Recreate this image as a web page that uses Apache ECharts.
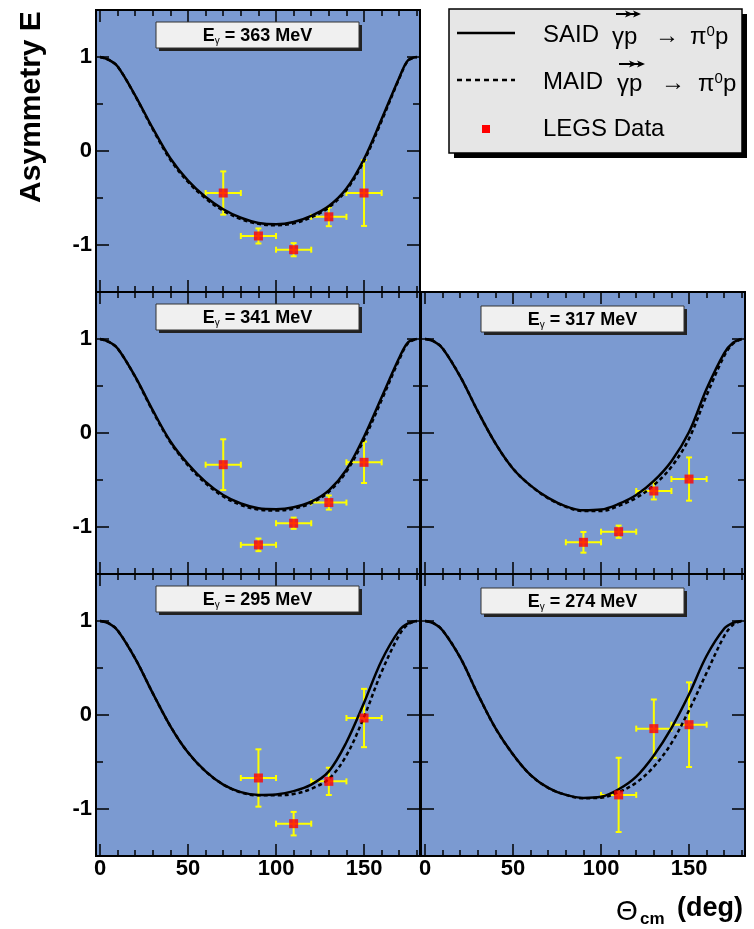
<!DOCTYPE html>
<html>
<head>
<meta charset="utf-8">
<script src="https://cdn.jsdelivr.net/npm/echarts@6/dist/echarts.min.js"></script>
<style>
  html, body { margin: 0; padding: 0; background: #fff; }
  #chart { width: 754px; height: 929px; }
</style>
</head>
<body>
<div id="chart"></div>
<script>
const theta = [0, 5, 10, 20, 30, 40, 50, 60, 70, 80, 90, 100, 110, 120, 130, 140, 150, 160, 170, 175, 180];

// SAID model (solid)
const said363 = [1.0, 0.97, 0.90, 0.59, 0.24, -0.08, -0.315, -0.49, -0.62, -0.71, -0.765, -0.78, -0.756, -0.69, -0.586, -0.40, -0.085, 0.34, 0.78, 0.965, 1.0];
const said341 = [1.0, 0.97, 0.90, 0.60, 0.24, -0.09, -0.33, -0.52, -0.66, -0.75, -0.80, -0.81, -0.79, -0.73, -0.61, -0.39, -0.04, 0.38, 0.80, 0.965, 1.0];
const said317 = [1.0, 0.975, 0.90, 0.60, 0.23, -0.11, -0.38, -0.56, -0.69, -0.78, -0.823, -0.815, -0.755, -0.66, -0.51, -0.30, 0.01, 0.47, 0.85, 0.96, 1.0];
const said295 = [1.0, 0.975, 0.90, 0.60, 0.23, -0.12, -0.40, -0.60, -0.74, -0.82, -0.85, -0.845, -0.81, -0.74, -0.60, -0.29, 0.13, 0.58, 0.90, 0.975, 1.0];
const said274 = [1.0, 0.975, 0.90, 0.61, 0.22, -0.14, -0.42, -0.64, -0.775, -0.85, -0.882, -0.87, -0.79, -0.655, -0.43, -0.14, 0.22, 0.63, 0.92, 0.98, 1.0];

// MAID model (dashed)
const maid363 = [1.0, 0.97, 0.90, 0.585, 0.23, -0.095, -0.33, -0.505, -0.635, -0.725, -0.775, -0.79, -0.77, -0.705, -0.60, -0.415, -0.105, 0.32, 0.77, 0.96, 1.0];
const maid341 = [1.0, 0.97, 0.90, 0.595, 0.23, -0.10, -0.345, -0.535, -0.675, -0.765, -0.815, -0.825, -0.805, -0.745, -0.625, -0.41, -0.07, 0.35, 0.78, 0.955, 1.0];
const maid317 = [1.0, 0.975, 0.90, 0.60, 0.23, -0.11, -0.38, -0.56, -0.695, -0.785, -0.83, -0.83, -0.775, -0.69, -0.555, -0.36, -0.06, 0.40, 0.82, 0.95, 1.0];
const maid295 = [1.0, 0.975, 0.90, 0.60, 0.23, -0.12, -0.40, -0.60, -0.74, -0.825, -0.855, -0.855, -0.84, -0.785, -0.68, -0.43, -0.02, 0.46, 0.85, 0.965, 1.0];
const maid274 = [1.0, 0.975, 0.90, 0.61, 0.22, -0.14, -0.42, -0.64, -0.775, -0.85, -0.885, -0.88, -0.82, -0.72, -0.55, -0.30, 0.05, 0.45, 0.84, 0.96, 1.0];

// LEGS data: angle, asymmetry, error
const legsTheta363 = [70, 90, 110, 130, 150];
const legsE363 = [-0.447, -0.904, -1.05, -0.70, -0.447];
const legsErr363 = [0.23, 0.08, 0.07, 0.10, 0.35];
const legsTheta341 = [70, 90, 110, 130, 150];
const legsE341 = [-0.337, -1.19, -0.96, -0.74, -0.312];
const legsErr341 = [0.27, 0.067, 0.06, 0.075, 0.22];
const legsTheta317 = [90, 110, 130, 150];
const legsE317 = [-1.163, -1.05, -0.617, -0.49];
const legsErr317 = [0.11, 0.065, 0.09, 0.23];
const legsTheta295 = [90, 110, 130, 150];
const legsE295 = [-0.67, -1.156, -0.706, -0.032];
const legsErr295 = [0.305, 0.125, 0.145, 0.31];
const legsTheta274 = [110, 130, 150];
const legsE274 = [-0.85, -0.145, -0.103];
const legsErr274 = [0.395, 0.31, 0.45];
const thetaErr = 10;

// tick labels
const xMajor = [0, 50, 100, 150];
const xMinor = [0, 10, 20, 30, 40, 50, 60, 70, 80, 90, 100, 110, 120, 130, 140, 150, 160, 170, 180];
const yMajor = [-1, 0, 1];
const yMinor = [-0.5, 0.5];

const FONT = '"Liberation Sans", Arial, sans-serif';
const X_MIN = -2.3, X_MAX = 181.8;
const PW = 324, PH = 282;

const panels = [
  { e: 363, said: said363, maid: maid363, pt: legsTheta363, pe: legsE363, perr: legsErr363, left: 96, top: 10, xl: false, yl: true },
  { e: 341, said: said341, maid: maid341, pt: legsTheta341, pe: legsE341, perr: legsErr341, left: 96, top: 292, xl: false, yl: true },
  { e: 317, said: said317, maid: maid317, pt: legsTheta317, pe: legsE317, perr: legsErr317, left: 421, top: 292, xl: false, yl: false },
  { e: 295, said: said295, maid: maid295, pt: legsTheta295, pe: legsE295, perr: legsErr295, left: 96, top: 574, xl: true, yl: true },
  { e: 274, said: said274, maid: maid274, pt: legsTheta274, pe: legsE274, perr: legsErr274, left: 421, top: 574, xl: true, yl: false }
];

const labelStyle = { color: '#000', fontFamily: FONT, fontWeight: 'bold', fontSize: 22 };

function xAx(g, pos, vals, len, showLab) {
  return {
    type: 'value', gridIndex: g, position: pos, min: X_MIN, max: X_MAX,
    axisLine: { show: false, onZero: false }, splitLine: { show: false },
    axisTick: { show: true, inside: true, length: len, customValues: vals, lineStyle: { color: '#000', width: 1.5 } },
    axisLabel: Object.assign({ show: showLab, customValues: vals, margin: 2 }, labelStyle)
  };
}
function yAx(g, pos, vals, len, showLab) {
  return {
    type: 'value', gridIndex: g, position: pos, min: -1.5, max: 1.5,
    axisLine: { show: false, onZero: false }, splitLine: { show: false },
    axisTick: { show: true, inside: true, length: len, customValues: vals, lineStyle: { color: '#000', width: 1.5 } },
    axisLabel: Object.assign({ show: showLab, customValues: vals, margin: 4 }, labelStyle)
  };
}

function renderErr(params, api) {
  const x = api.value(0), y = api.value(1), e = api.value(2);
  const l = api.coord([x - thetaErr, y]), r = api.coord([x + thetaErr, y]);
  const t = api.coord([x, y + e]), b = api.coord([x, y - e]);
  const st = { stroke: '#ffff00', lineWidth: 2 };
  const c = 3;
  return {
    type: 'group',
    children: [
      { type: 'line', shape: { x1: l[0], y1: l[1], x2: r[0], y2: r[1] }, style: st },
      { type: 'line', shape: { x1: t[0], y1: t[1], x2: b[0], y2: b[1] }, style: st },
      { type: 'line', shape: { x1: l[0], y1: l[1] - c, x2: l[0], y2: l[1] + c }, style: st },
      { type: 'line', shape: { x1: r[0], y1: r[1] - c, x2: r[0], y2: r[1] + c }, style: st },
      { type: 'line', shape: { x1: t[0] - c, y1: t[1], x2: t[0] + c, y2: t[1] }, style: st },
      { type: 'line', shape: { x1: b[0] - c, y1: b[1], x2: b[0] + c, y2: b[1] }, style: st }
    ]
  };
}

const grids = [], xAxes = [], yAxes = [], series = [], graphics = [];

panels.forEach(function (p, g) {
  grids.push({
    show: true, left: p.left, top: p.top, width: PW, height: PH,
    backgroundColor: '#7b9ad1', borderColor: '#000', borderWidth: 2,
    outerBoundsMode: 'none'
  });
  xAxes.push(xAx(g, 'bottom', xMajor, 12, p.xl), xAx(g, 'bottom', xMinor, 6, false),
             xAx(g, 'top', xMajor, 12, false), xAx(g, 'top', xMinor, 6, false));
  yAxes.push(yAx(g, 'left', yMajor, 13, p.yl), yAx(g, 'left', yMinor, 7, false),
             yAx(g, 'right', yMajor, 13, false), yAx(g, 'right', yMinor, 7, false));

  const xi = g * 4, yi = g * 4;
  series.push({
    type: 'custom', name: 'err' + p.e, xAxisIndex: xi, yAxisIndex: yi, z: 2, silent: true,
    renderItem: renderErr,
    data: p.pt.map(function (t, i) { return [t, p.pe[i], p.perr[i]]; })
  });
  series.push({
    type: 'line', name: 'MAID', xAxisIndex: xi, yAxisIndex: yi, z: 3, silent: true,
    smooth: 0.35, symbol: 'none',
    lineStyle: { color: '#000', width: 2.5, type: [4, 3] },
    data: theta.map(function (t, i) { return [t, p.maid[i]]; })
  });
  series.push({
    type: 'line', name: 'SAID', xAxisIndex: xi, yAxisIndex: yi, z: 3, silent: true,
    smooth: 0.35, symbol: 'none',
    lineStyle: { color: '#000', width: 2.5 },
    data: theta.map(function (t, i) { return [t, p.said[i]]; })
  });
  series.push({
    type: 'scatter', name: 'LEGS Data', xAxisIndex: xi, yAxisIndex: yi, z: 4, silent: true,
    symbol: 'rect', symbolSize: 9, itemStyle: { color: '#ff0000' },
    data: p.pt.map(function (t, i) { return [t, p.pe[i]]; })
  });

  // energy label box
  const bx = p.left + 60, by = p.top + (p.left < 200 ? 12 : 14), bw = 203, bh = 26;
  graphics.push(
    { type: 'rect', z: 10, shape: { x: bx + 3, y: by + 3, width: bw, height: bh }, style: { fill: '#222' } },
    { type: 'rect', z: 11, shape: { x: bx, y: by, width: bw, height: bh }, style: { fill: '#f0f0f0', stroke: '#333', lineWidth: 1 } },
    {
      type: 'text', z: 12, x: bx + bw / 2, y: by + bh / 2 + 1,
      style: {
        text: '{e|E}{g|γ}{e| = ' + p.e + ' MeV}',
        align: 'center', verticalAlign: 'middle',
        rich: {
          e: { fontFamily: FONT, fontWeight: 'bold', fontSize: 18, fill: '#000', lineHeight: 20 },
          g: { fontFamily: FONT, fontSize: 10, fill: '#000', verticalAlign: 'bottom', lineHeight: 14 }
        }
      }
    }
  );
});

// legend box (top right)
const LX = 449, LY = 9, LW = 293, LH = 144;
const legText = { fontFamily: FONT, fontSize: 24, fill: '#000' };
function tx(x, y, s, extra) {
  return { type: 'text', z: 22, x: x, y: y, style: Object.assign({ text: s, verticalAlign: 'middle' }, legText, extra || {}) };
}
// double arrow drawn over "γp"
function dblArrow(x1, x2, y) {
  const st = { stroke: '#000', lineWidth: 2 };
  const hd = function (x) {
    return { type: 'polygon', z: 22, shape: { points: [[x, y], [x - 8, y - 3.5], [x - 6, y], [x - 8, y + 3.5]] }, style: { fill: '#000' } };
  };
  return [
    { type: 'line', z: 22, shape: { x1: x1, y1: y, x2: x2 - 2, y2: y }, style: st },
    hd(x2 - 8), hd(x2)
  ];
}
graphics.push(
  { type: 'rect', z: 20, shape: { x: LX + 5, y: LY + 5, width: LW, height: LH }, style: { fill: '#000' } },
  { type: 'rect', z: 21, shape: { x: LX, y: LY, width: LW, height: LH }, style: { fill: '#e6e6e6', stroke: '#000', lineWidth: 1.5 } },
  { type: 'line', z: 22, shape: { x1: 457, y1: 33, x2: 515, y2: 33 }, style: { stroke: '#000', lineWidth: 2.5 } },
  { type: 'line', z: 22, shape: { x1: 457, y1: 80, x2: 515, y2: 80 }, style: { stroke: '#000', lineWidth: 2.5, lineDash: [5, 4] } },
  { type: 'rect', z: 22, shape: { x: 482, y: 125, width: 8, height: 8 }, style: { fill: '#ff0000' } },
  tx(543, 35, 'SAID'), tx(612, 37, 'γp'), tx(655, 36, '→'),
  {
    type: 'text', z: 22, x: 690, y: 37,
    style: { text: '{a|π}{s|0}{a|p}', verticalAlign: 'middle', rich: { a: Object.assign({ lineHeight: 26 }, legText), s: { fontFamily: FONT, fontSize: 15, fill: '#000', verticalAlign: 'top', lineHeight: 26 } } }
  },
  tx(543, 82, 'MAID'), tx(617, 84, 'γp'), tx(661, 83, '→'),
  {
    type: 'text', z: 22, x: 698, y: 84,
    style: { text: '{a|π}{s|0}{a|p}', verticalAlign: 'middle', rich: { a: Object.assign({ lineHeight: 26 }, legText), s: { fontFamily: FONT, fontSize: 15, fill: '#000', verticalAlign: 'top', lineHeight: 26 } } }
  },
  tx(543, 129, 'LEGS Data')
);
graphics.push.apply(graphics, dblArrow(616, 641, 14));
graphics.push.apply(graphics, dblArrow(619, 645, 64));

// axis titles
graphics.push(
  {
    type: 'text', z: 5, x: 32, y: 107, rotation: Math.PI / 2,
    style: { text: 'Asymmetry E', align: 'center', verticalAlign: 'middle', fontFamily: FONT, fontWeight: 'bold', fontSize: 30, fill: '#000' }
  },
  { type: 'text', z: 5, x: 616, y: 912, style: { text: 'Θ', verticalAlign: 'middle', fontFamily: FONT, fontSize: 28, fill: '#000' } },
  { type: 'text', z: 5, x: 640, y: 919, style: { text: 'cm', verticalAlign: 'middle', fontFamily: FONT, fontWeight: 'bold', fontSize: 17, fill: '#000' } },
  { type: 'text', z: 5, x: 677, y: 909, style: { text: '(deg)', verticalAlign: 'middle', fontFamily: FONT, fontWeight: 'bold', fontSize: 27, fill: '#000' } }
);

const chart = echarts.init(document.getElementById('chart'));
chart.setOption({
  animation: false,
  backgroundColor: '#fff',
  grid: grids,
  xAxis: xAxes,
  yAxis: yAxes,
  series: series,
  graphic: graphics
});
</script>
</body>
</html>
